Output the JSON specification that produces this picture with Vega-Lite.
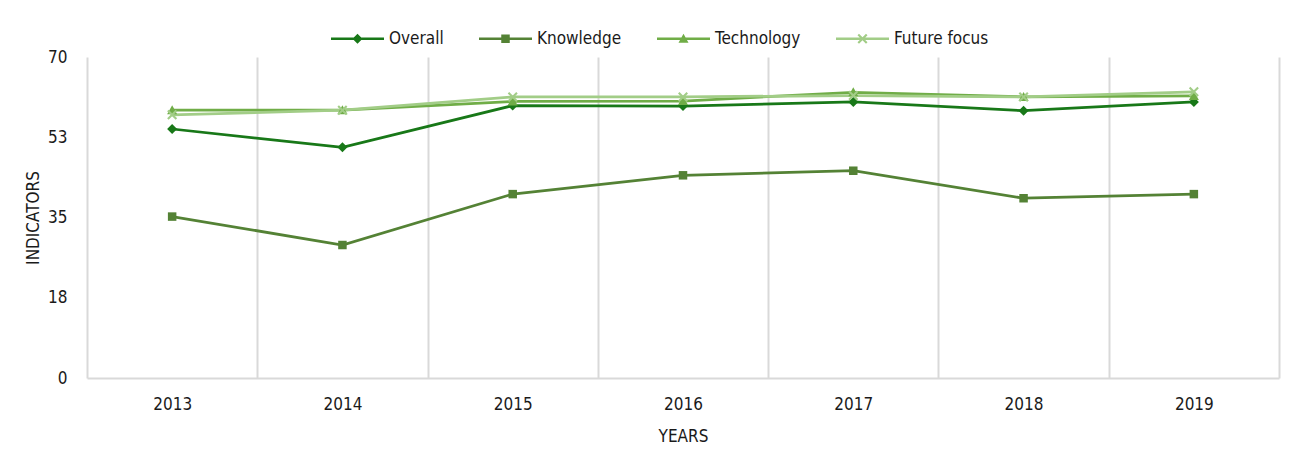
{
  "$schema": "https://vega.github.io/schema/vega-lite/v6.json",
  "width": 1192,
  "height": 321,
  "autosize": {"type": "none"},
  "padding": {"left": 87, "top": 57, "right": 11, "bottom": 79},
  "background": "white",
  "config": {
    "view": {"stroke": null},
    "font": "DejaVu Sans Condensed, Liberation Sans Narrow, DejaVu Sans, sans-serif"
  },
  "data": {
    "values": [
      {"Year": "2013", "Series": "Overall", "Value": 54.3},
      {"Year": "2014", "Series": "Overall", "Value": 50.3},
      {"Year": "2015", "Series": "Overall", "Value": 59.4},
      {"Year": "2016", "Series": "Overall", "Value": 59.3},
      {"Year": "2017", "Series": "Overall", "Value": 60.2},
      {"Year": "2018", "Series": "Overall", "Value": 58.3},
      {"Year": "2019", "Series": "Overall", "Value": 60.2},
      {"Year": "2013", "Series": "Knowledge", "Value": 35.2},
      {"Year": "2014", "Series": "Knowledge", "Value": 29.0},
      {"Year": "2015", "Series": "Knowledge", "Value": 40.1},
      {"Year": "2016", "Series": "Knowledge", "Value": 44.2},
      {"Year": "2017", "Series": "Knowledge", "Value": 45.2},
      {"Year": "2018", "Series": "Knowledge", "Value": 39.2},
      {"Year": "2019", "Series": "Knowledge", "Value": 40.1},
      {"Year": "2013", "Series": "Technology", "Value": 58.4},
      {"Year": "2014", "Series": "Technology", "Value": 58.4},
      {"Year": "2015", "Series": "Technology", "Value": 60.3},
      {"Year": "2016", "Series": "Technology", "Value": 60.4},
      {"Year": "2017", "Series": "Technology", "Value": 62.3},
      {"Year": "2018", "Series": "Technology", "Value": 61.3},
      {"Year": "2019", "Series": "Technology", "Value": 61.5},
      {"Year": "2013", "Series": "Future focus", "Value": 57.4},
      {"Year": "2014", "Series": "Future focus", "Value": 58.4},
      {"Year": "2015", "Series": "Future focus", "Value": 61.3},
      {"Year": "2016", "Series": "Future focus", "Value": 61.3},
      {"Year": "2017", "Series": "Future focus", "Value": 61.6},
      {"Year": "2018", "Series": "Future focus", "Value": 61.3},
      {"Year": "2019", "Series": "Future focus", "Value": 62.4}
    ]
  },
  "encoding": {
    "x": {
      "field": "Year",
      "type": "ordinal",
      "scale": {"type": "band", "paddingInner": 0, "paddingOuter": 0},
      "axis": {
        "title": "YEARS",
        "grid": true,
        "gridColor": "#d9d9d9",
        "gridWidth": 2,
        "tickBand": "extent",
        "ticks": false,
        "domainColor": "#d9d9d9",
        "domainWidth": 2,
        "labelAngle": 0,
        "labelFontSize": 17,
        "labelColor": "#1a1a1a",
        "labelPadding": 18,
        "titleFontSize": 17,
        "titleFontWeight": "normal",
        "titleColor": "#1a1a1a",
        "titlePadding": 16
      }
    },
    "y": {
      "field": "Value",
      "type": "quantitative",
      "scale": {"domain": [0, 70], "nice": false, "zero": true},
      "axis": {
        "title": "INDICATORS",
        "values": [0, 17.5, 35, 52.5, 70],
        "format": ".0f",
        "grid": false,
        "domain": false,
        "ticks": false,
        "labelFontSize": 17,
        "labelColor": "#1a1a1a",
        "labelPadding": 20,
        "titleFontSize": 17,
        "titleFontWeight": "normal",
        "titleColor": "#1a1a1a",
        "titlePadding": 5
      }
    }
  },
  "layer": [
    {
      "mark": {"type": "line", "strokeWidth": 2.75},
      "encoding": {
        "color": {
          "field": "Series",
          "type": "nominal",
          "scale": {
            "domain": ["Overall", "Knowledge", "Technology", "Future focus"],
            "range": ["#187818", "#548235", "#70ad47", "#a2cd87"]
          },
          "legend": null
        },
        "order": {"field": "Year"}
      }
    },
    {
      "mark": {"type": "point", "filled": true, "opacity": 1, "size": 100, "strokeWidth": 0},
      "encoding": {
        "color": {
          "field": "Series",
          "type": "nominal",
          "scale": {
            "domain": ["Overall", "Knowledge", "Technology", "Future focus"],
            "range": ["#187818", "#548235", "#70ad47", "#a2cd87"]
          },
          "legend": null
        },
        "shape": {
          "field": "Series",
          "type": "nominal",
          "scale": {
            "domain": ["Overall", "Knowledge", "Technology", "Future focus"],
            "range": [
              "M0,-1L1,0L0,1L-1,0Z",
              "M-0.85,-0.85H0.85V0.85H-0.85Z",
              "M0,-1L1,0.8H-1Z",
              "M-1,-0.7L-0.7,-1L0,-0.3L0.7,-1L1,-0.7L0.3,0L1,0.7L0.7,1L0,0.3L-0.7,1L-1,0.7L-0.3,0Z"
            ]
          },
          "legend": null
        }
      }
    },
    {
      "transform": [{"filter": "datum.Value < 0"}],
      "mark": {"type": "point", "filled": true, "opacity": 1, "size": 100, "strokeWidth": 0},
      "encoding": {
        "color": {
          "field": "Series",
          "type": "nominal",
          "scale": {
            "domain": ["Overall", "Knowledge", "Technology", "Future focus"],
            "range": ["#187818", "#548235", "#70ad47", "#a2cd87"]
          },
          "legend": {
            "orient": "none",
            "legendX": 262,
            "legendY": -27,
            "direction": "horizontal",
            "title": null,
            "symbolSize": 100,
            "symbolStrokeWidth": 0,
            "labelFontSize": 17,
            "labelColor": "#1a1a1a",
            "labelOffset": 23,
            "columnPadding": 35
          }
        },
        "shape": {
          "field": "Series",
          "type": "nominal",
          "scale": {
            "domain": ["Overall", "Knowledge", "Technology", "Future focus"],
            "range": [
              "M-5.3,-0.26H5.3V0.26H-5.3Z M0,-1L1,0L0,1L-1,0Z",
              "M-5.3,-0.26H5.3V0.26H-5.3Z M-0.85,-0.85H0.85V0.85H-0.85Z",
              "M-5.3,-0.26H5.3V0.26H-5.3Z M0,-1L1,0.8H-1Z",
              "M-5.3,-0.26H5.3V0.26H-5.3Z M-1,-0.7L-0.7,-1L0,-0.3L0.7,-1L1,-0.7L0.3,0L1,0.7L0.7,1L0,0.3L-0.7,1L-1,0.7L-0.3,0Z"
            ]
          },
          "legend": {
            "orient": "none",
            "legendX": 262,
            "legendY": -27,
            "direction": "horizontal",
            "title": null,
            "symbolSize": 100,
            "symbolStrokeWidth": 0,
            "labelFontSize": 17,
            "labelColor": "#1a1a1a",
            "labelOffset": 23,
            "columnPadding": 35
          }
        }
      }
    }
  ],
  "resolve": {"scale": {"color": "independent", "shape": "independent"}}
}
